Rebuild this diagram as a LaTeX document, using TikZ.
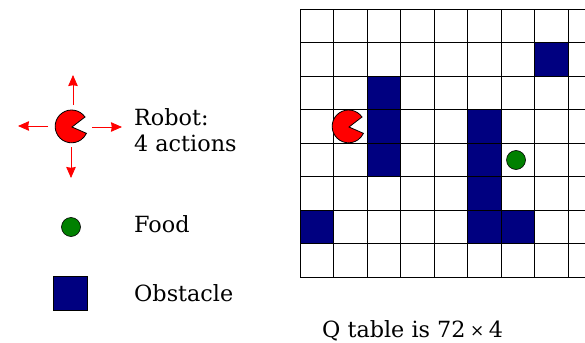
\documentclass[tikz,border=0pt]{standalone}
\usepackage{fontspec}
\setmainfont{DejaVu Serif}
\usetikzlibrary{arrows.meta}
\definecolor{obst}{RGB}{0,0,128}
\definecolor{foodg}{RGB}{0,128,0}
\tikzset{
  x=1pt,y=-1pt,
  cell/.style={draw=black,line width=0.8pt},
  obstcell/.style={fill=obst,draw=black,line width=0.4pt},
  act/.style={draw=red,line width=0.8pt,-{Stealth[length=11pt,width=9.5pt,inset=0.8pt]}},
  robot/.style={fill=red,draw=black,line width=0.8pt},
  food/.style={circle,fill=foodg,draw=black,line width=0.6pt,minimum size=19pt,inner sep=0pt},
  lab/.style={anchor=base west,inner sep=0pt,font=\fontsize{22.3}{25.5}\selectfont,align=left},
}
\begin{document}
\begin{tikzpicture}
\useasboundingbox (0,0) rectangle (585,342);
\fill[white] (0,0) rectangle (585,342);
\begin{scope}
\clip (0,0) rectangle (585,342);
\foreach \c in {0,...,8}\foreach \r in {0,...,7}
  \draw[cell] ({300+33.5*\c},{9+33.5*\r}) rectangle +(33.5,33.5);
\foreach \c/\r in {7/1,2/2,2/3,2/4,5/3,5/4,5/5,5/6,6/6,0/6}
  \draw[obstcell] ({300+33.5*\c},{9+33.5*\r}) rectangle +(33.5,33.5);
\end{scope}
\node[food] (food1) at (516,160) {};
\node[food] (food2) at (71,227) {};
\node[obstcell,minimum size=34pt,inner sep=0pt,rectangle] (obstacle) at (70.5,293.5) {};
\coordinate (ua) at (73,105); \coordinate (ub) at (73,75);
\coordinate (ra) at (92,127); \coordinate (rb) at (122,127);
\coordinate (la) at (48,126); \coordinate (lb) at (18,126);
\coordinate (da) at (71,147); \coordinate (db) at (71,178);
\draw[act] (ua) -- (ub);
\draw[act] (ra) -- (rb);
\draw[act] (la) -- (lb);
\draw[act] (da) -- (db);
\draw[robot] (72,127) -- (85,117) arc[start angle=-35,end angle=-335,radius=16.4] -- cycle;
\draw[robot] (349,127) -- (362,117) arc[start angle=-35,end angle=-335,radius=16.4] -- cycle;
\node[lab] (robotlabel) at (134,151) {Robot:\\4 actions};
\node[lab] (foodlabel) at (134,232.5) {Food};
\node[lab] (obstaclelabel) at (134,301.5) {Obstacle};
\node[lab] (qlabel) at (322,337.5) {Q table is 72\hspace{4.5pt}\raisebox{1pt}{\fontsize{17}{17}\selectfont ×}\hspace{4.5pt}4};
\end{tikzpicture}
\end{document}
